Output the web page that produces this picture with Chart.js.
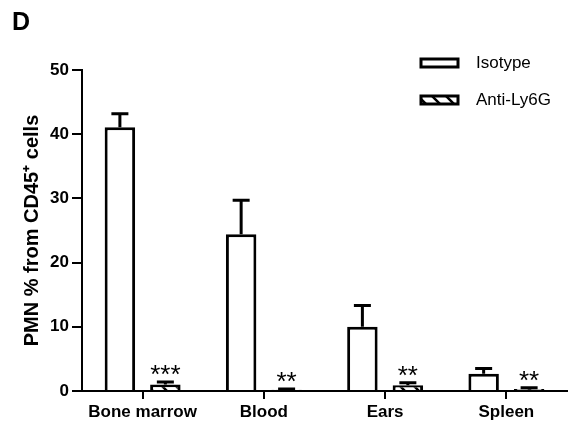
<!DOCTYPE html>
<html>
<head>
<meta charset="utf-8">
<script src="https://cdn.jsdelivr.net/npm/chart.js@4.4.1/dist/chart.umd.min.js"></script>
<style>
  html, body { margin: 0; padding: 0; background: #fff; }
  #wrap { width: 575px; height: 427px; position: relative; }
</style>
</head>
<body>
<div id="wrap"><canvas id="pmnChart" width="575" height="427"></canvas></div>
<script>
// values (mean, upper error bar as SEM)
var categories = ["Bone marrow", "Blood", "Ears", "Spleen"];
var isotype = [41.1, 24.4, 10.0, 2.7];
var isotypeErr = [2.1, 5.3, 3.3, 0.8];
var antiLy6G = [1.0, 0.2, 0.9, 0.3];
var antiErr = [0.4, 0.1, 0.4, 0.2];
var stars = ["***", "**", "**", "**"];
var yTicks = [0, 10, 20, 30, 40, 50];

var fontFamily = "'Liberation Sans', Arial, Helvetica, sans-serif";

// diagonal hatch for the Anti-Ly6G bars
function makeHatch() {
  var c = document.createElement("canvas");
  c.width = 14; c.height = 14;
  var g = c.getContext("2d");
  g.fillStyle = "#fff";
  g.fillRect(0, 0, 14, 14);
  g.strokeStyle = "#000";
  g.lineWidth = 2.5;
  g.beginPath();
  g.moveTo(-2, -2); g.lineTo(16, 16);
  g.moveTo(-9, 5); g.lineTo(2, 16);
  g.moveTo(12, -2); g.lineTo(23, 9);
  g.stroke();
  return g.createPattern(c, "repeat");
}

var ctx = document.getElementById("pmnChart").getContext("2d");
var hatch = makeHatch();
var errs = [isotypeErr, antiErr];

var errorBars = {
  id: "errorBars",
  afterDatasetsDraw: function(chart) {
    var c = chart.ctx, ys = chart.scales.y;
    c.save();
    c.strokeStyle = "#000";
    c.lineWidth = 3;
    chart.data.datasets.forEach(function(ds, di) {
      var meta = chart.getDatasetMeta(di);
      meta.data.forEach(function(bar, i) {
        var top = ys.getPixelForValue(ds.data[i] + errs[di][i]);
        var base = ys.getPixelForValue(ds.data[i]);
        c.beginPath();
        c.moveTo(bar.x, base);
        c.lineTo(bar.x, top);
        c.moveTo(bar.x - 8.5, top);
        c.lineTo(bar.x + 8.5, top);
        c.stroke();
      });
    });
    // significance stars over the Anti-Ly6G bars
    var meta1 = chart.getDatasetMeta(1);
    c.fillStyle = "#000";
    c.font = "26px " + fontFamily;
    c.textAlign = "center";
    c.textBaseline = "alphabetic";
    meta1.data.forEach(function(bar, i) {
      var top = ys.getPixelForValue(antiLy6G[i] + antiErr[i]);
      c.fillText(stars[i], bar.x, top + 1);
    });
    c.restore();
  }
};

var panelAndLegend = {
  id: "panelAndLegend",
  afterDraw: function(chart) {
    var c = chart.ctx;
    c.save();
    c.fillStyle = "#000";
    c.font = "bold 25px " + fontFamily;
    c.textAlign = "left";
    c.textBaseline = "alphabetic";
    c.fillText("D", 12, 30);

    var items = [
      { label: "Isotype", fill: "#fff", y: 63 },
      { label: "Anti-Ly6G", fill: hatch, y: 100 }
    ];
    items.forEach(function(it) {
      c.fillStyle = it.fill;
      c.fillRect(421, it.y - 4, 37, 8);
      c.strokeStyle = "#000";
      c.lineWidth = 3;
      c.strokeRect(421, it.y - 4, 37, 8);
      c.fillStyle = "#000";
      c.font = "17px " + fontFamily;
      c.textBaseline = "middle";
      c.fillText(it.label, 476, it.y);
    });
    c.restore();
  }
};

new Chart(ctx, {
  type: "bar",
  data: {
    labels: categories,
    datasets: [
      { label: "Isotype", data: isotype, backgroundColor: "#fff", borderColor: "#000", borderWidth: 3, borderSkipped: "start" },
      { label: "Anti-Ly6G", data: antiLy6G, backgroundColor: hatch, borderColor: "#000", borderWidth: 3, borderSkipped: "start" }
    ]
  },
  options: {
    responsive: false,
    animation: false,
    categoryPercentage: 0.75,
    barPercentage: 0.67,
    layout: { padding: { top: 70, right: 8, left: 0, bottom: 0 } },
    plugins: {
      legend: { display: false },
      tooltip: { enabled: false }
    },
    scales: {
      y: {
        min: 0,
        max: 50,
        afterFit: function(s) { s.width = 82; },
        afterBuildTicks: function(s) { s.ticks = yTicks.map(function(v) { return { value: v }; }); },
        ticks: { color: "#000", padding: 3, font: { family: fontFamily, size: 17, weight: "bold" } },
        grid: { drawOnChartArea: false, drawTicks: true, tickLength: 10, color: "#000", lineWidth: 2 },
        border: { display: true, color: "#000", width: 2 },
        title: {
          display: true,
          text: "PMN % from CD45\u207A cells",
          color: "#000",
          padding: { top: 20, bottom: 0 },
          font: { family: fontFamily, size: 20, weight: "bold" }
        }
      },
      x: {
        afterFit: function(s) { s.height = 36; },
        ticks: { color: "#000", padding: 3, font: { family: fontFamily, size: 17, weight: "bold" } },
        grid: { offset: false, drawOnChartArea: false, drawTicks: true, tickLength: 8, color: "#000", lineWidth: 2 },
        border: { display: true, color: "#000", width: 2 }
      }
    }
  },
  plugins: [errorBars, panelAndLegend]
});
</script>
</body>
</html>
